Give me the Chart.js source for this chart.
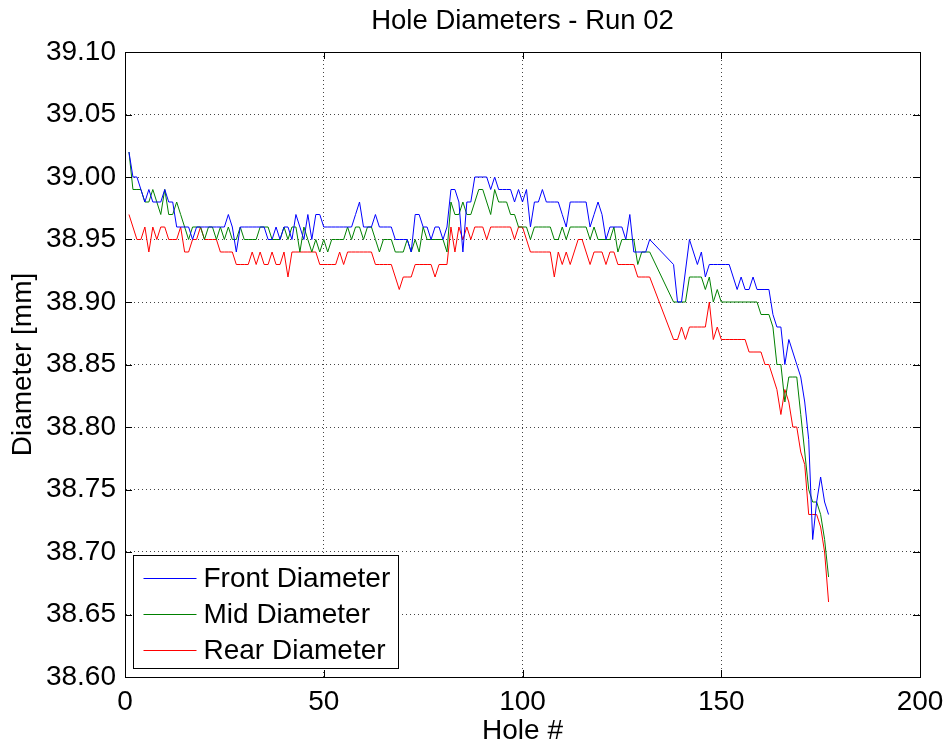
<!DOCTYPE html>
<html>
<head>
<meta charset="utf-8">
<title>Hole Diameters - Run 02</title>
<script src="https://cdn.jsdelivr.net/npm/chart.js@4.4.0/dist/chart.umd.min.js"></script>
<style>
  html, body { margin: 0; padding: 0; background: #fff; }
</style>
</head>
<body>
<canvas id="chart" width="949" height="748"></canvas>
<script>
// measured diameters per hole [mm], null = no reading (line spans the gap)
const front = [
  39.02, 39.00, 39.00, 38.99, 38.98, 38.99, 38.98, 38.98, 38.98, 38.99,
  38.98, 38.98, 38.96, 38.96, 38.96, 38.96, 38.95, 38.96, 38.96, 38.96,
  38.96, 38.96, 38.96, 38.96, 38.96, 38.97, 38.96, 38.94, 38.96, 38.96,
  38.96, 38.96, 38.96, 38.96, 38.96, 38.95, 38.95, 38.96, 38.95, 38.96,
  38.96, 38.95, 38.97, 38.96, 38.95, 38.97, 38.95, 38.97, 38.97, 38.96,
  38.96, 38.96, 38.96, 38.96, 38.96, 38.96, 38.96, 38.97, 38.98, 38.96,
  38.96, 38.96, 38.97, 38.96, 38.96, 38.96, 38.96, 38.95, 38.95, 38.95,
  38.95, 38.94, 38.97, 38.97, 38.96, 38.96, 38.95, 38.96, 38.96, 38.95,
  38.96, 38.99, 38.99, 38.98, 38.94, 38.98, 38.98, 39.00, 39.00, 39.00,
  39.00, 38.99, 39.00, 38.99, 38.99, 38.99, 38.99, 38.98, 38.99, 38.98,
  38.99, 38.96, 38.98, 38.98, 38.99, 38.98, 38.98, 38.98, 38.98, 38.97,
  38.96, 38.98, 38.98, 38.98, 38.98, 38.98, 38.96, 38.97, 38.98, 38.97,
  38.95, 38.96, 38.96, 38.96, 38.96, 38.95, 38.97, 38.94, 38.94, 38.94,
  38.94, 38.95, null, null, null, null, null, 38.93, 38.90, 38.90,
  null, 38.95, 38.94, 38.93, 38.94, 38.92, 38.93, 38.93, 38.93, 38.93,
  38.93, 38.93, 38.92, 38.91, 38.92, 38.91, 38.91, 38.92, 38.91, 38.91,
  38.91, 38.91, 38.89, 38.88, 38.88, 38.85, 38.87, 38.86, 38.85, 38.84,
  38.82, 38.79, 38.71, 38.74, 38.76, 38.74, 38.73
];
const mid = [
  39.02, 38.99, 38.99, 38.99, 38.98, 38.98, 38.99, 38.98, 38.97, 38.99,
  38.97, 38.97, 38.98, 38.97, 38.96, 38.95, 38.96, 38.96, 38.96, 38.95,
  38.96, 38.96, 38.95, 38.96, 38.95, 38.96, 38.95, 38.95, 38.96, 38.95,
  38.95, 38.95, 38.95, 38.96, 38.96, 38.96, 38.95, 38.95, 38.95, 38.96,
  38.95, 38.96, 38.96, 38.94, 38.96, 38.95, 38.94, 38.95, 38.94, 38.95,
  38.94, 38.95, 38.95, 38.95, 38.95, 38.96, 38.95, 38.96, 38.96, 38.95,
  38.96, 38.96, 38.95, 38.94, 38.95, 38.95, 38.95, 38.94, 38.94, 38.94,
  38.95, 38.94, 38.95, 38.94, 38.96, 38.95, 38.95, 38.95, 38.95, 38.95,
  38.94, 38.98, 38.97, 38.97, 38.98, 38.97, 38.97, 38.98, 38.99, 38.99,
  38.98, 38.97, 38.99, 38.98, 38.98, 38.98, 38.97, 38.97, 38.96, 38.96,
  38.96, 38.95, 38.96, 38.96, 38.96, 38.96, 38.96, 38.95, 38.95, 38.96,
  38.95, 38.96, 38.96, 38.96, 38.96, 38.96, 38.95, 38.96, 38.95, 38.95,
  38.95, 38.95, 38.96, 38.94, 38.95, 38.95, 38.95, 38.95, 38.93, 38.94,
  38.94, 38.94, null, null, null, null, null, 38.90, 38.90, 38.90,
  38.90, 38.92, 38.92, 38.92, 38.92, 38.91, 38.92, 38.90, 38.91, 38.90,
  38.90, 38.90, 38.90, 38.90, 38.90, 38.90, 38.90, 38.90, 38.90, 38.89,
  38.89, 38.89, 38.88, 38.85, 38.85, 38.82, 38.84, 38.84, 38.84, 38.81,
  38.78, 38.75, 38.74, 38.74, 38.73, 38.71, 38.68
];
const rear = [
  38.97, 38.96, 38.95, 38.95, 38.96, 38.94, 38.96, 38.95, 38.96, 38.96,
  38.95, 38.95, 38.95, 38.96, 38.94, 38.94, 38.95, 38.95, 38.96, 38.95,
  38.95, 38.95, 38.95, 38.94, 38.94, 38.94, 38.94, 38.93, 38.93, 38.93,
  38.93, 38.94, 38.93, 38.94, 38.93, 38.93, 38.94, 38.93, 38.93, 38.94,
  38.92, 38.94, 38.94, 38.94, 38.94, 38.94, 38.94, 38.94, 38.93, 38.93,
  38.93, 38.93, 38.93, 38.94, 38.93, 38.94, 38.94, 38.94, 38.94, 38.94,
  38.94, 38.94, 38.93, 38.93, 38.93, 38.93, 38.93, 38.92, 38.91, 38.92,
  38.92, 38.92, 38.93, 38.93, 38.93, 38.93, 38.93, 38.92, 38.93, 38.93,
  38.93, 38.96, 38.94, 38.96, 38.95, 38.96, 38.95, 38.96, 38.96, 38.96,
  38.95, 38.96, 38.96, 38.96, 38.96, 38.96, 38.96, 38.95, 38.96, 38.96,
  38.95, 38.94, 38.94, 38.94, 38.94, 38.94, 38.94, 38.92, 38.94, 38.93,
  38.94, 38.93, 38.94, 38.95, 38.95, 38.94, 38.93, 38.94, 38.94, 38.94,
  38.93, 38.94, 38.94, 38.93, 38.93, 38.93, 38.93, 38.93, 38.92, 38.92,
  38.92, 38.92, null, null, null, null, null, 38.87, 38.87, 38.88,
  38.87, 38.88, 38.88, 38.88, 38.88, 38.88, 38.90, 38.87, 38.88, 38.87,
  38.87, 38.87, 38.87, 38.87, 38.87, 38.87, 38.86, 38.86, 38.86, 38.86,
  38.85, 38.85, 38.84, 38.83, 38.81, 38.83, 38.82, 38.80, 38.80, 38.78,
  38.77, 38.73, 38.73, 38.73, 38.72, 38.70, 38.66
];
const holes = front.map((_, i) => i + 1);

const seriesNames = ["Front Diameter", "Mid Diameter", "Rear Diameter"];
const seriesColors = ["#0000ff", "#008000", "#ff0000"];

const xTicks = [0, 50, 100, 150, 200];
const yMin = 38.6, yMax = 39.1, yStep = 0.05;

const FONT = "'Liberation Sans', Arial, Helvetica, sans-serif";
Chart.defaults.font.family = FONT;
Chart.defaults.color = "#000";

const toPoints = (values) => values.map((v, i) => ({ x: holes[i], y: v }));

// box around the plot, inward ticks on all four sides and a legend inside the axes
const axesFrame = {
  id: "axesFrame",
  afterDatasetsDraw(chart) {
    let ctx = chart.ctx;
    let { left, right, top, bottom } = chart.chartArea;
    let xs = chart.scales.x;
    let ys = chart.scales.y;
    let tick = 7;
    ctx.save();
    ctx.strokeStyle = "#000";
    ctx.lineWidth = 1;
    ctx.beginPath();
    for (let v of xTicks) {
      let px = Math.round(xs.getPixelForValue(v)) + 0.5;
      ctx.moveTo(px, bottom);
      ctx.lineTo(px, bottom - tick);
      ctx.moveTo(px, top);
      ctx.lineTo(px, top + tick);
    }
    for (let t of ys.ticks) {
      let py = Math.round(ys.getPixelForValue(t.value)) + 0.5;
      ctx.moveTo(left, py);
      ctx.lineTo(left + tick, py);
      ctx.moveTo(right, py);
      ctx.lineTo(right - tick, py);
    }
    ctx.stroke();
    ctx.strokeRect(Math.round(left) + 0.5, Math.round(top) + 0.5,
      Math.round(right - left), Math.round(bottom - top));

    // legend
    let lx = Math.round(left) + 8.5, ly = Math.round(bottom) - 121.5;
    let lw = 265, lh = 113;
    ctx.fillStyle = "#fff";
    ctx.fillRect(lx, ly, lw, lh);
    ctx.strokeStyle = "#000";
    ctx.strokeRect(lx, ly, lw, lh);
    ctx.font = "28px " + FONT;
    ctx.textBaseline = "middle";
    ctx.textAlign = "left";
    seriesNames.forEach((name, i) => {
      let cy = Math.round(ly + 22 + i * 36) + 0.5;
      ctx.strokeStyle = seriesColors[i];
      ctx.beginPath();
      ctx.moveTo(lx + 10, cy);
      ctx.lineTo(lx + 63, cy);
      ctx.stroke();
      ctx.fillStyle = "#000";
      ctx.fillText(name, lx + 70, cy + 1);
    });
    ctx.restore();
  },
};

new Chart(document.getElementById("chart"), {
  type: "line",
  data: {
    datasets: [front, mid, rear].map((vals, i) => ({
      label: seriesNames[i],
      data: toPoints(vals),
      borderColor: seriesColors[i],
      backgroundColor: seriesColors[i],
      borderWidth: 1,
      pointRadius: 0,
      spanGaps: true,
      tension: 0,
    })),
  },
  options: {
    responsive: false,
    animation: false,
    devicePixelRatio: 1,
    layout: { padding: { left: 0, right: 29, top: 0, bottom: 0 } },
    plugins: {
      legend: { display: false },
      tooltip: { enabled: false },
      title: {
        display: true,
        text: "Hole Diameters - Run 02",
        fullSize: false,
        color: "#000",
        font: { size: 27.5, weight: "normal" },
        padding: { top: 5, bottom: 14 },
      },
    },
    scales: {
      x: {
        type: "linear",
        min: 0,
        max: 200,
        afterBuildTicks: (scale) => {
          scale.ticks = xTicks.map((v) => ({ value: v }));
        },
        afterFit: (scale) => {
          scale.height = 71;
          scale.paddingLeft = 0;
          scale.paddingRight = 0;
        },
        ticks: { font: { size: 28 }, padding: 8, maxRotation: 0 },
        grid: { color: "#444", drawTicks: false, lineWidth: 1 },
        border: { display: true, color: "#000", dash: [1, 3] },
        title: {
          display: true,
          text: "Hole #",
          font: { size: 28 },
          padding: { top: 0, bottom: 0 },
        },
      },
      y: {
        type: "linear",
        min: yMin,
        max: yMax,
        ticks: {
          stepSize: yStep,
          font: { size: 28 },
          padding: 9,
          callback: (v) => v.toFixed(2),
        },
        afterFit: (scale) => {
          scale.width = 125;
          scale.paddingTop = 0;
          scale.paddingBottom = 0;
        },
        grid: { color: "#444", drawTicks: false, lineWidth: 1 },
        border: { display: true, color: "#000", dash: [1, 3] },
        title: {
          display: true,
          text: "Diameter [mm]",
          font: { size: 28 },
          padding: { top: 6, bottom: 0 },
        },
      },
    },
  },
  plugins: [axesFrame],
});
</script>
</body>
</html>
